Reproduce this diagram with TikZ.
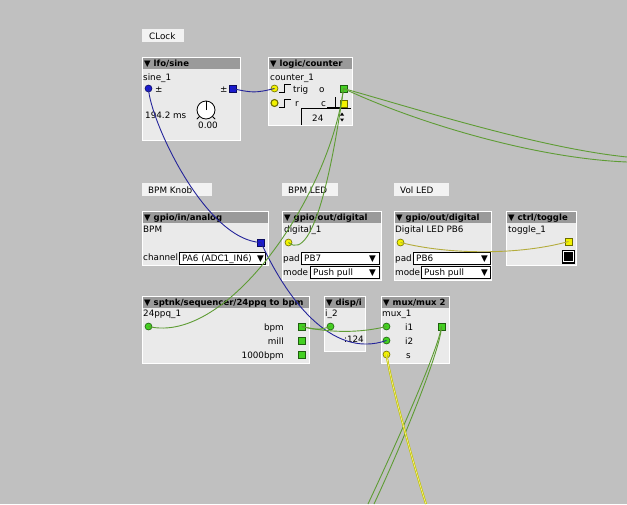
\documentclass[tikz,border=0pt]{standalone}
\usepackage{fontspec}
\setmainfont{DejaVu Sans}
\definecolor{bgc}{HTML}{C0C0C0}
\definecolor{bodyc}{HTML}{EAEAEA}
\definecolor{hdrc}{HTML}{9A9A9A}
\definecolor{cmtc}{HTML}{F2F2F2}
\definecolor{inblue}{HTML}{1A1AD0}
\definecolor{ingreen}{HTML}{44D022}
\definecolor{inyellow}{HTML}{F2F200}
\definecolor{wblue}{HTML}{24249A}
\definecolor{wgreen}{HTML}{5E9C34}
\definecolor{wyellow}{HTML}{E6E600}
\definecolor{wolive}{HTML}{B4AC3C}
\newcommand\fsz{\fontsize{8.8}{10}\selectfont}
\newcommand\fszh{\fontsize{8.5}{10}\selectfont}
\newcommand\axobox[6]{%
  \node[bodyfill, anchor=north west, minimum width=#4pt, minimum height=#5pt] (#1) at (#2,#3) {};
  \node[hdrfill, anchor=north west, minimum width=#4pt, minimum height=12pt] (#1h) at (#2,#3) {};
  \draw[white, line width=0.8pt] (#1.north west) rectangle (#1.south east);
  \node[txth] (#1t) at (#2+2,#3+9.5) {▼ #6};
}
\begin{document}
\begin{tikzpicture}[x=1pt,y=-1pt,
  bodyfill/.style={fill=bodyc, inner sep=0pt, outer sep=0pt},
  hdrfill/.style={fill=hdrc, inner sep=0pt, outer sep=0pt},
  cmtbox/.style={fill=cmtc, inner sep=0pt, outer sep=0pt, anchor=north west, minimum height=13pt},
  txt/.style={font=\fsz, inner sep=0pt, anchor=base west},
  txtr/.style={font=\fsz, inner sep=0pt, anchor=base east},
  txth/.style={font=\fszh\bfseries, inner sep=0pt, anchor=base west},
  inlet/.style={circle, inner sep=0pt, minimum size=7pt, fill=#1, draw=#1!45!black, line width=0.6pt},
  outlet/.style={rectangle, inner sep=0pt, minimum size=7pt, fill=#1, draw=#1!45!black, line width=0.6pt},
  ddbox/.style={fill=white, draw=black, line width=0.7pt, inner sep=0pt, anchor=north west, minimum height=12pt},
  wire/.style={line width=0.9pt},
]
\useasboundingbox (0,0) rectangle (627,504);
\fill[bgc] (0,0) rectangle (627,504);
\clip (0,0) rectangle (627,504);

% comments
\node[cmtbox, minimum width=42pt] (clk) at (142,29) {};
\node[txt] (clkt) at (149,39) {CLock};
\node[cmtbox, minimum width=70pt] (bknob) at (142,183) {};
\node[txt] (bknobt) at (148,193) {BPM Knob};
\node[cmtbox, minimum width=56pt] (bled) at (282,183) {};
\node[txt] (bledt) at (288,193) {BPM LED};
\node[cmtbox, minimum width=55pt] (vled) at (394,183) {};
\node[txt] (vledt) at (400,193) {Vol LED};

% lfo/sine
\axobox{sine}{142}{57}{98}{83}{lfo/sine}
\node[txt] (sinen) at (143,80) {sine\_1};
\node[inlet=inblue] (sinein) at (148.5,88.5) {};
\node[txt] (sinepma) at (155,92) {±};
\node[txt] (sinepmb) at (220,92) {±};
\node[outlet=inblue] (sineout) at (232.5,88.5) {};
\node[txt] (sinef) at (145,118) {194.2 ms};
\node[circle, draw=black, fill=white, line width=0.8pt, minimum size=18pt, inner sep=0pt] (knob) at (206,110) {};
\draw[line width=0.8pt] (knob.center) -- (knob.north);
\draw[line width=0.8pt] (knob.-135) -- ++(-2.5,2.5);
\draw[line width=0.8pt] (knob.-45) -- ++(2.5,2.5);
\node[txt] (knobv) at (198,128) {0.00};

% logic/counter
\axobox{ctr}{268}{57}{84}{68}{logic/counter}
\node[txt] (ctrn) at (270,80) {counter\_1};
\node[inlet=inyellow] (ctrtrig) at (274.5,88.5) {};
\draw[line width=0.7pt] (279,92) -- (284,92) -- (284,84.5) -- (291,84.5);
\node[txt] (ctrtrigt) at (293,92) {trig};
\node[txt] (ctrot) at (319,92) {o};
\node[outlet=ingreen] (ctro) at (343.5,88.5) {};
\node[inlet=inyellow, line width=1.1pt] (ctrr) at (274.5,103) {};
\draw[line width=0.7pt] (279,107) -- (284,107) -- (284,99) -- (291,99);
\node[txt] (ctrrt) at (295,106.5) {r};
\node[txt] (ctrct) at (321,106.5) {c};
\draw[line width=0.7pt] (327,107.5) -- (340,107.5) (335,97) -- (335,107.5);
\node[outlet=inyellow] (ctrc) at (344,103.5) {};
\draw[line width=0.8pt] (301,125) -- (301,108.5) -- (351,108.5);
\node[txt] (ctrnum) at (312,121) {24};
\fill (340,115.5) -- (344,115.5) -- (342,112.5) -- cycle;
\fill (340,118.5) -- (344,118.5) -- (342,121.5) -- cycle;

% gpio/in/analog
\axobox{ain}{142}{211}{126}{54}{gpio/in/analog}
\node[txt] (ainn) at (143,232) {BPM};
\node[outlet=inblue] (ainout) at (261,242.5) {};
\node[txt] (ainch) at (143,260.5) {channel};
\node[ddbox, minimum width=86pt] (aindd) at (179,252) {};
\node[txt] (aindt) at (182,261) {PA6 (ADC1\_IN6)};
\node[txt] (aindv) at (257,261) {▼};

% gpio/out/digital (BPM LED)
\axobox{dig}{282}{211}{99}{69}{gpio/out/digital}
\node[txt] (dign) at (284,232) {digital\_1};
\node[inlet=inyellow] (digin) at (288.5,242.5) {};
\node[txt] (digpad) at (283,261) {pad};
\node[ddbox, minimum width=78pt] (digdda) at (301,252) {};
\node[txt] (digddat) at (304,261) {PB7};
\node[txt] (digddav) at (369,261) {▼};
\node[txt] (digmode) at (283,275.5) {mode};
\node[ddbox, minimum width=69pt] (digddb) at (310,266) {};
\node[txt] (digddbt) at (313,275.5) {Push pull};
\node[txt] (digddbv) at (369,275.5) {▼};

% gpio/out/digital (PB6)
\axobox{pb}{394}{211}{97}{69}{gpio/out/digital}
\node[txt] (pbn) at (395,232) {Digital LED PB6};
\node[inlet=inyellow] (pbin) at (400.5,242.5) {};
\node[txt] (pbpad) at (395,261) {pad};
\node[ddbox, minimum width=77pt] (pbdda) at (413,252) {};
\node[txt] (pbddat) at (416,261) {PB6};
\node[txt] (pbddav) at (481,261) {▼};
\node[txt] (pbmode) at (395,275.5) {mode};
\node[ddbox, minimum width=69pt] (pbddb) at (421,266) {};
\node[txt] (pbddbt) at (424,275.5) {Push pull};
\node[txt] (pbddbv) at (481,275.5) {▼};

% ctrl/toggle
\axobox{tog}{506}{211}{70}{54}{ctrl/toggle}
\node[txt] (togn) at (508,232) {toggle\_1};
\node[outlet=inyellow] (togout) at (568.5,241.5) {};
\node[fill=black, draw=black, minimum size=12.5pt, inner sep=0pt] (togb) at (568,256.5) {};
\draw[white, line width=0.6pt] ([shift={(1.6,1.6)}]togb.north west) rectangle ([shift={(-1.6,-1.6)}]togb.south east);

% sptnk/sequencer
\axobox{seq}{142}{296}{167}{67}{sptnk/sequencer/24ppq to bpm}
\node[txt] (seqn) at (143,316.5) {24ppq\_1};
\node[inlet=ingreen] (seqin) at (148.5,326.5) {};
\node[txtr] (seqbpmt) at (284,330) {bpm};
\node[outlet=ingreen] (seqbpm) at (302,326.5) {};
\node[txtr] (seqmillt) at (284,344) {mill};
\node[outlet=ingreen] (seqmill) at (302,340.5) {};
\node[txtr] (seqkt) at (284,358) {1000bpm};
\node[outlet=ingreen] (seqk) at (302,354.5) {};

% disp/i
\axobox{disp}{324}{296}{41}{55}{disp/i}
\node[txt] (dispn) at (325,316.5) {i\_2};
\node[inlet=ingreen] (dispin) at (330.5,326.5) {};
\node[txtr] (dispv) at (364,342.5) {:124};

% mux/mux 2
\axobox{mux}{381}{296}{68}{67}{mux/mux 2}
\node[txt] (muxn) at (382,316.5) {mux\_1};
\node[inlet=ingreen] (muxia) at (386.5,326.5) {};
\node[txt] (muxiat) at (405,330) {i1};
\node[outlet=ingreen] (muxout) at (441.5,326.5) {};
\node[inlet=ingreen] (muxib) at (386.5,340.5) {};
\node[txt] (muxibt) at (405,344) {i2};
\node[inlet=inyellow] (muxs) at (386.5,354.5) {};
\node[txt] (muxst) at (406,358) {s};

% free ends
\coordinate (offA) at (627,157);
\coordinate (offB) at (627,162);
\coordinate (offC) at (368,504);
\coordinate (offD) at (374,504);
\coordinate (offE) at (426,504);

% wires
\draw[wire, wblue] (sineout.center) .. controls (252,93) and (256,93) .. (ctrtrig.center);
\draw[wire, wblue] (sinein.center) .. controls (150,120) and (205,240) .. (ainout.center);
\draw[wire, wblue] (ainout.center) .. controls (285,295) and (330,360) .. (muxib.center);
\draw[wire, wgreen] (ctro.center) .. controls (420,110) and (540,148) .. (offA);
\draw[wire, wgreen] (ctro.center) .. controls (410,120) and (530,158) .. (offB);
\draw[wire, wgreen] (ctro.center) .. controls (335,150) and (315,265) .. (digin.center);
\draw[wire, wgreen] (ctro.center) .. controls (330,195) and (228,345) .. (seqin.center);
\draw[wire, wgreen] (seqbpm.center) .. controls (315,330) and (320,330) .. (dispin.center);
\draw[wire, wgreen] (seqbpm.center) .. controls (330,333) and (360,333) .. (muxia.center);
\draw[wire, wgreen] (muxout.center) .. controls (438,350) and (398,440) .. (offC);
\draw[wire, wgreen] (muxout.center) .. controls (441,348) and (404,440) .. (offD);
\draw[draw=wyellow!85!black, double=wyellow!40!white, double distance=0.6pt, line width=0.7pt] (muxs.center) .. controls (390,380) and (415,470) .. (offE);
\draw[wire, wolive] (togout.center) .. controls (520,255) and (450,255) .. (pbin.center);
\end{tikzpicture}
\end{document}
